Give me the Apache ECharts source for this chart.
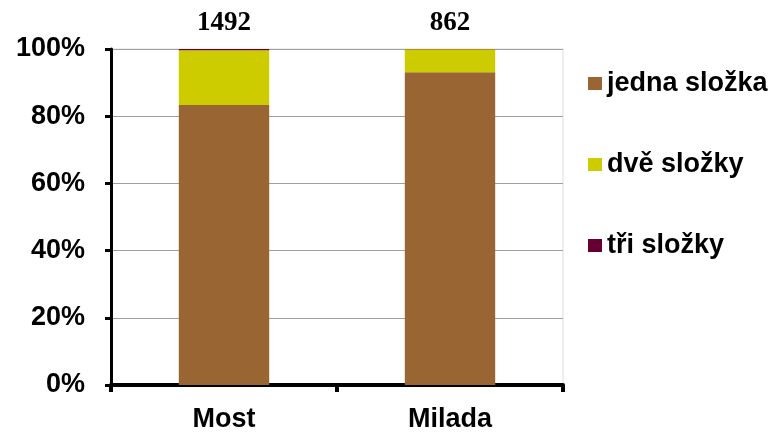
<!DOCTYPE html>
<html><head><meta charset="utf-8">
<script src="https://cdn.jsdelivr.net/npm/echarts@6/dist/echarts.min.js"></script>
<style>html,body{margin:0;padding:0;background:#fff}#c{width:773px;height:437px}</style>
</head><body><div id="c"></div>
<script>
const categories = ['Most', 'Milada'];
const totals = [1492, 862];
const jedna = [83.3, 93.1];
const dve = [16.3, 6.8];
const tri = [0.4, 0.1];
const seriesNames = ['jedna složka', 'dvě složky', 'tři složky'];
const yTicks = [0, 20, 40, 60, 80, 100];

const font = 'Arial, "Liberation Sans", sans-serif';
const chart = echarts.init(document.getElementById('c'));
chart.setOption({
  animation: false,
  grid: {left: 111, right: 210, top: 49, bottom: 52, show: true, borderColor: '#dddddd', borderWidth: 1, backgroundColor: 'transparent'},
  legend: {
    orient: 'vertical', left: 583, top: 65, itemGap: 54,
    itemWidth: 14, itemHeight: 13, icon: 'rect',
    data: seriesNames,
    textStyle: {fontFamily: font, fontWeight: 'bold', fontSize: 27, color: '#000'}
  },
  xAxis: {
    type: 'category', data: categories, boundaryGap: true,
    axisLine: {lineStyle: {color: '#000', width: 4}},
    axisTick: {show: true, length: 7, lineStyle: {color: '#000', width: 4}},
    axisLabel: {fontFamily: font, fontWeight: 'bold', fontSize: 27, color: '#000', margin: 21}
  },
  yAxis: {
    type: 'value', min: 0, max: 100, interval: 20,
    axisLine: {show: true, lineStyle: {color: '#000', width: 3}},
    axisTick: {show: true, length: 6, lineStyle: {color: '#000', width: 3}},
    axisLabel: {fontFamily: font, fontWeight: 'bold', fontSize: 27, color: '#000', margin: 26,
      formatter: v => yTicks.includes(v) ? v + '%' : ''},
    splitLine: {lineStyle: {color: '#a0a0a0', width: 1}}
  },
  series: [
    {name: seriesNames[0], type: 'bar', stack: 's', data: jedna, barWidth: '40%', itemStyle: {color: '#996633'}},
    {name: seriesNames[1], type: 'bar', stack: 's', data: dve, itemStyle: {color: '#CCCC00'}},
    {name: seriesNames[2], type: 'bar', stack: 's', data: tri, itemStyle: {color: '#660033'},
      label: {show: true, position: 'top', distance: 12,
        formatter: p => String(totals[p.dataIndex]),
        fontFamily: '"Liberation Serif", "Times New Roman", serif', fontWeight: 'bold', fontSize: 27, color: '#000'}}
  ]
});
</script></body></html>
